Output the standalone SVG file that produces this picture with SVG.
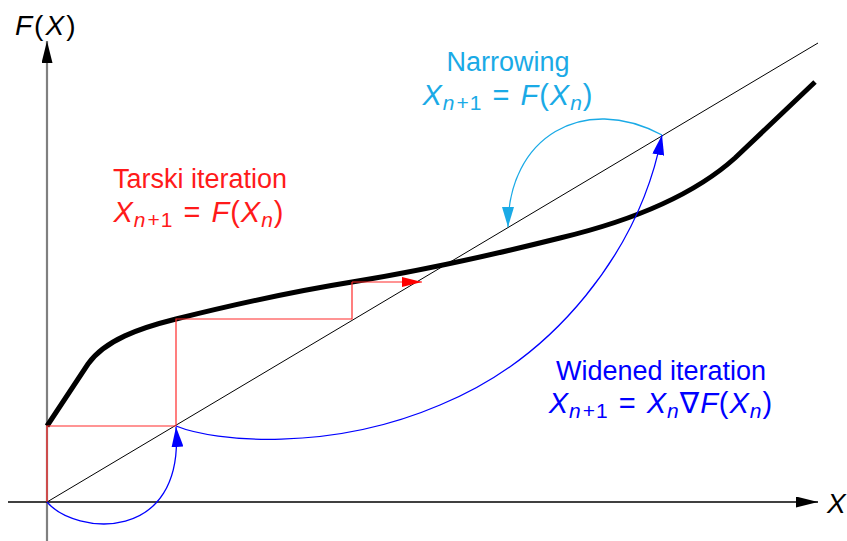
<svg xmlns="http://www.w3.org/2000/svg" width="847" height="541" viewBox="0 0 847 541">
<style>
text{font-family:"Liberation Sans","DejaVu Sans",sans-serif}
.lbl{font-size:27px}
.m{font-size:29px;letter-spacing:1px}
.i{font-style:italic}
.s{font-size:21px;font-style:italic}
.su{font-size:21px}
.red{fill:#ff1a1a}
.blue{fill:#0000ff}
.cyan{fill:#1aaae6}
.stair{fill:none;stroke:#ff2a2a;stroke-width:1.2}
.bl{fill:none;stroke:#0000ff;stroke-width:1.3}
.cy{fill:none;stroke:#1aaae6;stroke-width:1.3}
</style>
<defs>
<marker id="ab" viewBox="0 0 20 12" refX="20" refY="6" markerWidth="20" markerHeight="12" markerUnits="userSpaceOnUse" orient="auto"><path d="M0,0 L20,6 L0,12 z" fill="#0000ff"/></marker>
<marker id="ac" viewBox="0 0 20 12" refX="20" refY="6" markerWidth="20" markerHeight="12" markerUnits="userSpaceOnUse" orient="auto"><path d="M0,0 L20,6 L0,12 z" fill="#1aaae6"/></marker>
<marker id="ar" viewBox="0 0 20 10" refX="20" refY="5" markerWidth="20" markerHeight="10" markerUnits="userSpaceOnUse" orient="auto"><path d="M0,0 L20,5 L0,10 z" fill="#ff0000"/></marker>
<marker id="ak" viewBox="0 0 22 11" refX="22" refY="5.5" markerWidth="22" markerHeight="11" markerUnits="userSpaceOnUse" orient="auto"><path d="M0,0 L22,5.5 L0,11 z" fill="#000"/></marker>
</defs>
<g id="axes">
<line x1="47" y1="541" x2="47" y2="41" stroke="#808080" stroke-width="2.2" marker-end="url(#ak)"/>
<line x1="8" y1="502" x2="818" y2="502" stroke="#000" stroke-width="1.5" marker-end="url(#ak)"/>
<line x1="47" y1="502" x2="818" y2="43" stroke="#000" stroke-width="1"/>
<text x="15" y="35" font-size="28" letter-spacing="2" class="i">F<tspan font-style="normal">(</tspan>X<tspan font-style="normal">)</tspan></text>
<text x="827" y="513" font-size="28" class="i">X</text>
</g>
<g id="function-curve">
<path d="M47,426 L88,364 C105,340 140,328 176,319 C212,310 290,292 352,282 C420,271 480,258 560,238 C610,226 685,203 735,158 L815,82" fill="none" stroke="#000" stroke-width="5"/>
</g>
<g id="connectors">
<path class="stair" d="M47,502 V426 H176 V319 H352 V282"/>
<line x1="352" y1="282" x2="422" y2="282" stroke="#ff2a2a" stroke-width="1.2" marker-end="url(#ar)"/>
<path class="bl" d="M47,502 C75,535 185,545 176,427" marker-end="url(#ab)"/>
<path class="bl" d="M176,426 C215,442 330,452 440,405 C555,358 640,250 662,135" marker-end="url(#ab)"/>
<path class="cy" d="M662,135 C583,93 508,137 508,227" marker-end="url(#ac)"/>
</g>
<g id="narrowing-label">
<text class="lbl cyan" x="508" y="71" text-anchor="middle">Narrowing</text>
<text class="m cyan" x="508" y="105" text-anchor="middle"><tspan class="i">X</tspan><tspan class="s" dy="5">n</tspan><tspan class="su" dx="1">+1</tspan><tspan dy="-5" dx="10">=</tspan><tspan class="i" dx="10">F</tspan><tspan>(</tspan><tspan class="i">X</tspan><tspan class="s" dy="5">n</tspan><tspan dy="-5">)</tspan></text>
</g>
<g id="tarski-label">
<text class="lbl red" x="200" y="188" text-anchor="middle">Tarski iteration</text>
<text class="m red" x="199" y="222" text-anchor="middle"><tspan class="i">X</tspan><tspan class="s" dy="5">n</tspan><tspan class="su" dx="1">+1</tspan><tspan dy="-5" dx="10">=</tspan><tspan class="i" dx="10">F</tspan><tspan>(</tspan><tspan class="i">X</tspan><tspan class="s" dy="5">n</tspan><tspan dy="-5">)</tspan></text>
</g>
<g id="widened-label">
<text class="lbl blue" x="661" y="380" text-anchor="middle">Widened iteration</text>
<text class="m blue" x="661" y="413" text-anchor="middle"><tspan class="i">X</tspan><tspan class="s" dy="5">n</tspan><tspan class="su" dx="1">+1</tspan><tspan dy="-5" dx="10">=</tspan><tspan class="i" dx="10">X</tspan><tspan class="s" dy="5">n</tspan><tspan dy="-5">∇</tspan><tspan class="i">F</tspan><tspan>(</tspan><tspan class="i">X</tspan><tspan class="s" dy="5">n</tspan><tspan dy="-5">)</tspan></text>
</g>
</svg>
